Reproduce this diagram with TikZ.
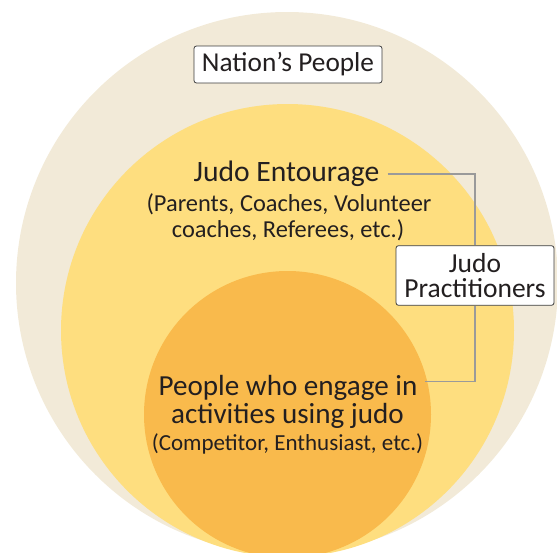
\documentclass[tikz,border=0pt]{standalone}
\usepackage{fontspec}
\setmainfont{Carlito}
\definecolor{outerc}{RGB}{242,234,216}
\definecolor{midc}{RGB}{254,222,127}
\definecolor{innc}{RGB}{249,186,76}
\definecolor{textc}{RGB}{35,31,32}
\definecolor{linec}{RGB}{154,154,154}
\definecolor{boxline}{RGB}{60,60,60}
\begin{document}
\begin{tikzpicture}[x=1pt,y=-1pt,
  txt/.style={anchor=base, inner sep=0pt, text=textc},
  labelbox/.style={draw=boxline, line width=0.8pt, fill=white, rounded corners=2.5pt, inner sep=0pt, text=textc},
  conn/.style={draw=linec, line width=1.3pt}]
\useasboundingbox (0,0) rectangle (557,552);
\begin{scope}
\clip (0,0) rectangle (557,552);
\fill[outerc] (287,283) circle (271pt);
\fill[midc] (287.5,330.5) circle (226.5pt);
\fill[innc] (287.5,414.5) circle (143.5pt);
\end{scope}
\node[labelbox, minimum width=188pt, minimum height=37pt, font=\fontsize{27.3}{28}\selectfont] (nat) at (288,64.5) {\raisebox{-1.5pt}{Nation’s People}};
\node[txt, font=\fontsize{29.6}{30}\selectfont] (ent) at (286.5,181) {Judo Entourage};
\node[txt, font=\fontsize{24.4}{26}\selectfont] (ent2) at (289,211) {(Parents, Coaches, Volunteer};
\node[txt, font=\fontsize{24.4}{26}\selectfont] (ent3) at (288,237) {coaches, Referees, etc.)};
\node[txt, font=\fontsize{29.1}{30}\selectfont] (peo1) at (288,395) {People who engage in};
\node[txt, font=\fontsize{29.1}{30}\selectfont] (peo2) at (287.5,423) {activities using judo};
\node[txt, font=\fontsize{23}{24}\selectfont] (peo3) at (287.5,450) {(Competitor, Enthusiast, etc.)};
\node[labelbox, minimum width=158pt, minimum height=59.6pt, align=center, font=\fontsize{27.5}{25.5}\selectfont] (prac) at (475,275.5) {Judo\\Practitioners};
\draw[conn] ([xshift=8pt,yshift=7pt]ent.base east) -| (prac.north);
\draw[conn] (prac.south) |- ([xshift=7pt,yshift=13.3pt]peo1.base east);
\end{tikzpicture}
\end{document}
